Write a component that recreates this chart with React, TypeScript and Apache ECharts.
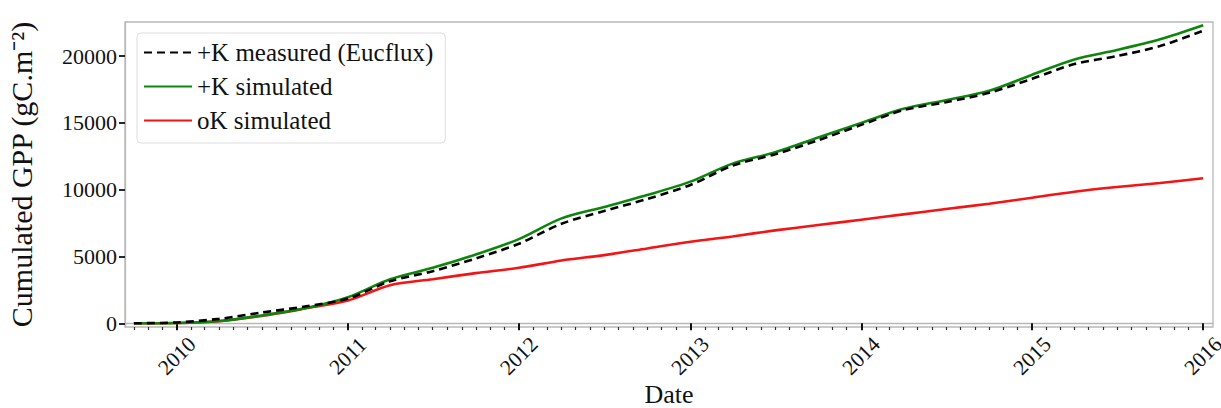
import React, { useEffect, useRef } from "react";
import * as echarts from "echarts";

const dates = [
  "2009-10-01", "2010-01-01", "2010-04-01", "2010-07-01", "2010-10-01",
  "2011-01-01", "2011-04-01", "2011-07-01", "2011-10-01",
  "2012-01-01", "2012-04-01", "2012-07-01", "2012-10-01",
  "2013-01-01", "2013-04-01", "2013-07-01", "2013-10-01",
  "2014-01-01", "2014-04-01", "2014-07-01", "2014-10-01",
  "2015-01-01", "2015-04-01", "2015-07-01", "2015-10-01",
  "2016-01-01",
];
const measuredK = [
  0, 60, 330, 800, 1250,
  1850, 3150, 3900, 4850,
  5950, 7450, 8400, 9300,
  10350, 11800, 12650, 13700,
  14850, 15950, 16550, 17250,
  18300, 19400, 20000, 20750,
  21900,
];
const simulatedK = [
  0, 20, 170, 580, 1120,
  1950, 3300, 4150, 5150,
  6300, 7850, 8700, 9600,
  10600, 11950, 12800, 13900,
  15000, 16050, 16700, 17400,
  18600, 19750, 20450, 21250,
  22300,
];
const simulatedOK = [
  0, 20, 150, 550, 1100,
  1700, 2850, 3300, 3750,
  4150, 4700, 5100, 5600,
  6100, 6500, 6950, 7350,
  7750, 8150, 8550, 8950,
  9400, 9850, 10200, 10500,
  10850,
];
const yearTicks = [2010, 2011, 2012, 2013, 2014, 2015, 2016];
const yTicks = [0, 5000, 10000, 15000, 20000];
const seriesNames = ["+K measured (Eucflux)", "+K simulated", "oK simulated"];

const toTime = (s: string) => {
  const [y, m, d] = s.split("-").map(Number);
  return Date.UTC(y, m - 1, d);
};

export default function App() {
  const ref = useRef<HTMLDivElement>(null);
  useEffect(() => {
    if (!ref.current) return;
    const chart = echarts.init(ref.current, null, { renderer: "svg" });
    const font = "Liberation Serif";
    const xMin = Date.UTC(2009, 8, 12);
    const xMax = Date.UTC(2016, 0, 22);
    const yearVals = yearTicks.map((y) => Date.UTC(y, 0, 1));
    const monthVals: number[] = [];
    for (let y = 2009; y <= 2016; y++) {
      for (let m = 0; m < 12; m++) {
        const t = Date.UTC(y, m, 1);
        if (t >= xMin && t <= xMax && m !== 0) monthVals.push(t);
      }
    }
    const mk = (vals: number[]) => dates.map((d, i) => [toTime(d), vals[i]]);
    chart.setOption({
      animation: false,
      backgroundColor: "#ffffff",
      grid: {
        left: 125,
        right: 8,
        top: 22,
        bottom: 81,
        show: true,
        borderColor: "#b8b8b8",
        borderWidth: 1.3,
        containLabel: false,
        outerBoundsMode: "none",
      },
      legend: {
        orient: "vertical",
        left: 137,
        top: 33,
        padding: [7, 12, 10, 6],
        itemWidth: 48,
        itemHeight: 14,
        itemGap: 9,
        backgroundColor: "rgba(255,255,255,0.85)",
        borderColor: "#dddddd",
        borderWidth: 1,
        borderRadius: 4,
        data: seriesNames,
        itemStyle: { opacity: 0 },
        textStyle: {
          fontFamily: font,
          fontSize: 25,
          color: "#111",
        },
      },
      xAxis: [
        {
          type: "value",
          min: xMin,
          max: xMax,
          name: "Date",
          nameLocation: "middle",
          nameGap: 54,
          nameMoveOverlap: false,
          nameTextStyle: { fontFamily: font, fontSize: 26, color: "#111" },
          axisLine: { show: true, lineStyle: { color: "#b8b8b8", width: 1.3 } },
          axisTick: {
            show: true,
            customValues: yearVals,
            length: 7,
            lineStyle: { color: "#111", width: 2 },
          },
          axisLabel: {
            customValues: yearVals,
            formatter: (v: number) => String(new Date(v).getUTCFullYear()),
            rotate: 45,
            align: "center",
            verticalAlign: "middle",
            margin: 29,
            lineHeight: 16,
            fontFamily: font,
            fontSize: 21.5,
            color: "#111",
          },
          splitLine: { show: false },
        },
        {
          type: "value",
          min: xMin,
          max: xMax,
          position: "bottom",
          axisLine: { show: true, lineStyle: { color: "rgba(0,0,0,0)" } },
          axisTick: {
            show: true,
            customValues: monthVals,
            length: 3,
            lineStyle: { color: "#333", width: 1.2 },
          },
          axisLabel: { show: false },
          splitLine: { show: false },
        },
      ],
      yAxis: {
        type: "value",
        min: -280,
        max: 22550,
        name: "Cumulated GPP (gC.m⁻²)",
        nameLocation: "middle",
        nameRotate: 90,
        nameGap: 89,
        nameTextStyle: { fontFamily: font, fontSize: 30, color: "#111" },
        axisLine: { show: true, lineStyle: { color: "#b8b8b8", width: 1.3 } },
        axisTick: {
          show: true,
          customValues: yTicks,
          length: 6,
          lineStyle: { color: "#111", width: 1.8 },
        },
        axisLabel: {
          customValues: yTicks,
          formatter: (v: number) => String(v),
          margin: 8,
          fontFamily: font,
          fontSize: 22,
          color: "#111",
        },
        splitLine: { show: false },
      },
      series: [
        {
          name: seriesNames[0],
          type: "line",
          data: mk(measuredK),
          showSymbol: false,
          symbol: "none",
          smooth: 0.3,
          z: 5,
          lineStyle: { color: "#000000", width: 2.6, type: [8, 5] },
          itemStyle: { color: "#000000" },
        },
        {
          name: seriesNames[1],
          type: "line",
          data: mk(simulatedK),
          showSymbol: false,
          symbol: "none",
          smooth: 0.3,
          z: 3,
          lineStyle: { color: "#0c860c", width: 2.6 },
          itemStyle: { color: "#0c860c" },
        },
        {
          name: seriesNames[2],
          type: "line",
          data: mk(simulatedOK),
          showSymbol: false,
          symbol: "none",
          smooth: 0.3,
          z: 2,
          lineStyle: { color: "#f41414", width: 2.6 },
          itemStyle: { color: "#f41414" },
        },
      ],
    });
    return () => chart.dispose();
  }, []);
  return (
    <div
      ref={ref}
      style={{ position: "fixed", left: 0, top: 0, width: 1221, height: 408 }}
    />
  );
}
